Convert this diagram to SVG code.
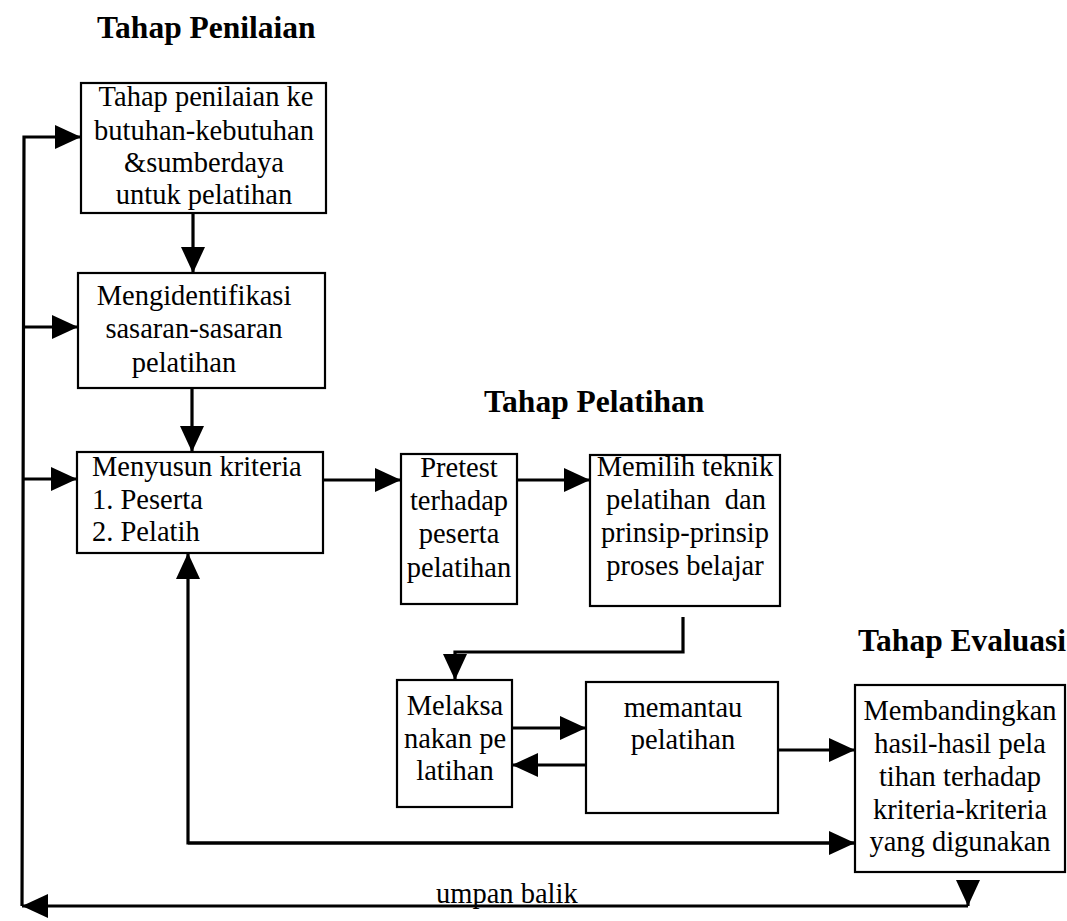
<svg xmlns="http://www.w3.org/2000/svg" width="1067" height="921" viewBox="0 0 1067 921">
  <style>
    .box { fill: #fff; stroke: #000; stroke-width: 2.2; }
    .t { font-family: "Liberation Serif", "Times New Roman", serif; font-size: 28.5px; fill: #000; white-space: pre; }
    .c { text-anchor: middle; }
    .h { font-family: "Liberation Serif", "Times New Roman", serif; font-size: 31.5px; font-weight: bold; fill: #000; }
    .ln { fill: none; stroke: #000; stroke-width: 3.2; stroke-linejoin: miter; }
  </style>
  <defs>
    <marker id="ah" viewBox="0 0 26 24" refX="26" refY="12" markerWidth="26" markerHeight="24" markerUnits="userSpaceOnUse" orient="auto">
      <path d="M0,0 L26,12 L0,24 Z" fill="#000"/>
    </marker>
  </defs>
  <rect width="1067" height="921" fill="#fff"/>

  <!-- stage headings -->
  <text class="h" x="97" y="38">Tahap Penilaian</text>
  <text class="h" x="484" y="412">Tahap Pelatihan</text>
  <text class="h" x="858" y="651">Tahap Evaluasi</text>

  <g id="connectors">
    <!-- feedback loop on the left -->
    <polyline class="ln" points="968,880 968,906"  marker-end="url(#ah)"/>
    <polyline class="ln" points="968,906 22,906" marker-end="url(#ah)"/>
    <polyline class="ln" points="22,906 24,137 81,137" marker-end="url(#ah)"/>
    <polyline class="ln" points="23,327 78,327" marker-end="url(#ah)"/>
    <polyline class="ln" points="22,479 77,479" marker-end="url(#ah)"/>
    <!-- assessment chain -->
    <polyline class="ln" points="193,213 193,273" marker-end="url(#ah)"/>
    <polyline class="ln" points="192,388 192,452" marker-end="url(#ah)"/>
    <!-- training chain -->
    <polyline class="ln" points="323,480 401,480" marker-end="url(#ah)"/>
    <polyline class="ln" points="517,480 590,480" marker-end="url(#ah)"/>
    <polyline class="ln" points="683,617 683,652 455,652 455,680" marker-end="url(#ah)"/>
    <polyline class="ln" points="512,728 586,728" marker-end="url(#ah)"/>
    <polyline class="ln" points="586,765 512,765" marker-end="url(#ah)"/>
    <!-- evaluation -->
    <polyline class="ln" points="778,750 855,750" marker-end="url(#ah)"/>
    <polyline class="ln" points="855,843 188,843 188,553" marker-end="url(#ah)"/>
    <polyline class="ln" points="188,843 855,843" marker-end="url(#ah)"/>
  </g>

  <g id="n-kebutuhan">
    <rect class="box" x="81" y="83" width="245" height="130"/>
    <text class="t c" x="206" y="106">Tahap penilaian ke</text>
    <text class="t c" x="204" y="140">butuhan-kebutuhan</text>
    <text class="t c" x="204" y="172">&amp;sumberdaya</text>
    <text class="t c" x="204" y="204">untuk pelatihan</text>
  </g>

  <g id="n-sasaran">
    <rect class="box" x="78" y="273" width="247" height="115"/>
    <text class="t c" x="194" y="305">Mengidentifikasi</text>
    <text class="t c" x="194" y="338">sasaran-sasaran</text>
    <text class="t c" x="184" y="372">pelatihan</text>
  </g>

  <g id="n-kriteria">
    <rect class="box" x="77" y="452" width="246" height="101"/>
    <text class="t" x="92" y="476">Menyusun kriteria</text>
    <text class="t" x="92" y="509">1. Peserta</text>
    <text class="t" x="92" y="541">2. Pelatih</text>
  </g>

  <g id="n-pretest">
    <rect class="box" x="401" y="454" width="116" height="150"/>
    <text class="t c" x="459" y="477">Pretest</text>
    <text class="t c" x="459" y="510">terhadap</text>
    <text class="t c" x="459" y="543">peserta</text>
    <text class="t c" x="459" y="577">pelatihan</text>
  </g>

  <g id="n-teknik">
    <rect class="box" x="590" y="455" width="190" height="151"/>
    <text class="t c" x="685" y="476">Memilih teknik</text>
    <text class="t c" x="686" y="509">pelatihan  dan</text>
    <text class="t c" x="685" y="542">prinsip-prinsip</text>
    <text class="t c" x="685" y="575">proses belajar</text>
  </g>

  <g id="n-melaksanakan">
    <rect class="box" x="397" y="680" width="115" height="127"/>
    <text class="t c" x="455" y="715">Melaksa</text>
    <text class="t c" x="455" y="748">nakan pe</text>
    <text class="t c" x="455" y="780">latihan</text>
  </g>

  <g id="n-memantau">
    <rect class="box" x="586" y="682" width="192" height="131"/>
    <text class="t c" x="683" y="717">memantau</text>
    <text class="t c" x="683" y="749">pelatihan</text>
  </g>

  <g id="n-membandingkan">
    <rect class="box" x="855" y="685" width="210" height="187"/>
    <text class="t c" x="960" y="720">Membandingkan</text>
    <text class="t c" x="960" y="753">hasil-hasil pela</text>
    <text class="t c" x="960" y="786">tihan terhadap</text>
    <text class="t c" x="960" y="819">kriteria-kriteria</text>
    <text class="t c" x="960" y="851">yang digunakan</text>
  </g>

  <text class="t" x="436" y="903">umpan balik</text>
</svg>
